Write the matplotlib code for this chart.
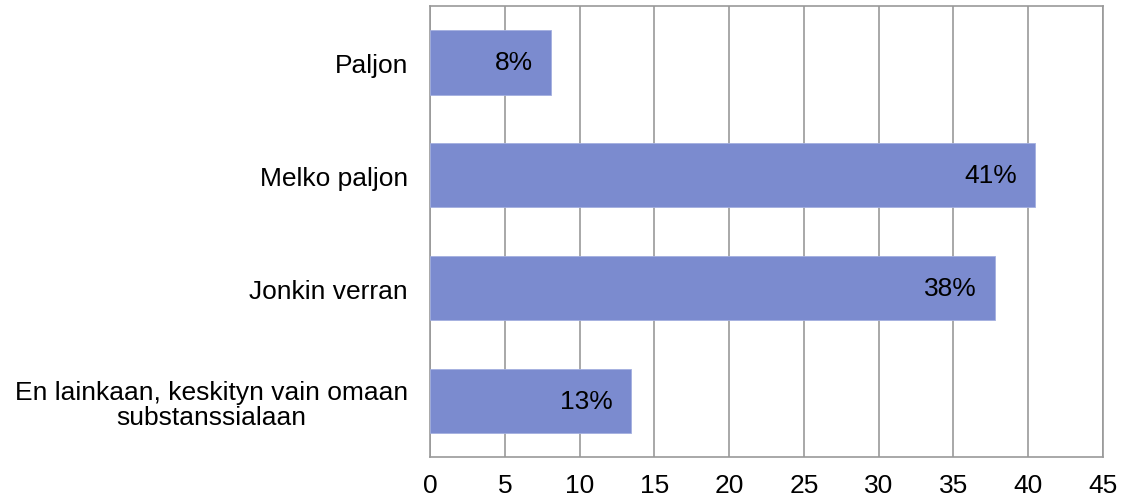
import numpy as np
import matplotlib.pyplot as plt

plt.rcParams['font.family'] = ['Liberation Sans', 'DejaVu Sans']

categories = ['Paljon', 'Melko paljon', 'Jonkin verran',
              'En lainkaan, keskityn vain omaan\nsubstanssialaan']
values = [8.07, 40.45, 37.75, 13.45]
labels = ['8%', '41%', '38%', '13%']
xticks = [0, 5, 10, 15, 20, 25, 30, 35, 40, 45]

fig = plt.figure(figsize=(11.28, 5.02), dpi=100)
ax = fig.add_axes([0.3812, 0.0867, 0.5966, 0.8993])

y = np.arange(len(categories))
bars = ax.barh(y, values, height=0.57, color='#7b8bcf', edgecolor='#a3afe0',
               linewidth=0.6, zorder=3)
ax.set_ylim(3.5, -0.5)
ax.set_xlim(0, 45)
ax.set_xticks(xticks)
ax.set_xticklabels([str(t) for t in xticks])
ax.set_yticks(y)
ax.set_yticklabels(categories, multialignment='center', linespacing=1.1)

for b, lab in zip(bars, labels):
    ax.annotate(lab, (b.get_width(), b.get_y() + b.get_height() / 2),
                xytext=(-13, 0), textcoords='offset points',
                ha='right', va='center', fontsize=19, zorder=4)

ax.grid(axis='x', color='#999999', linewidth=1.2, zorder=0)
ax.tick_params(axis='both', length=0, labelsize=19)
ax.tick_params(axis='y', pad=16)
ax.tick_params(axis='x', pad=11)
for s in ax.spines.values():
    s.set_color('#999999')
    s.set_linewidth(1.2)

fig.savefig('out.png', dpi=100)
